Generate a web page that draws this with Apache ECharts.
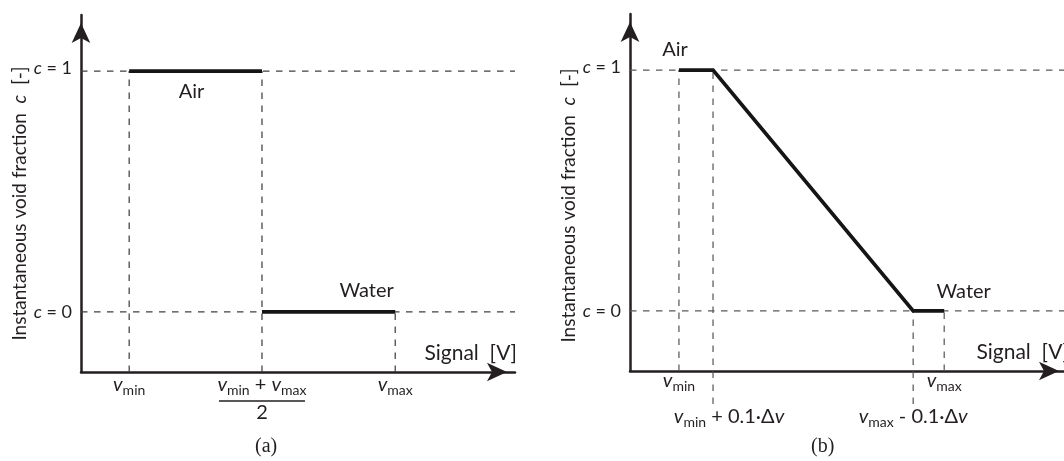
<!DOCTYPE html>
<html><head><meta charset="utf-8">
<script src="https://cdn.jsdelivr.net/npm/echarts@6/dist/echarts.min.js"></script>
<style>html,body{margin:0;padding:0;background:#fff}#c{width:1064px;height:461px}</style>
</head><body><div id="c"></div>
<script>
// ---------------- data ----------------
// signal axis in arbitrary units (0 = origin, 100 = arrow tip)
const cLevels = [0, 1];
const cLabels = ['{i|c}{t| = 0}', '{i1|c}{t1| = 1}'];

// panel (a): two-state step
const aTicks = [11.1, 41.7, 72.4];                 // v_min, (v_min+v_max)/2, v_max
const aTickLabels = ['{v|v}{s|min}', '{v|v}{s|min}{op| + }{v|v}{s|max}\n{bar|}\n{d|2}', '{v|v}{s|max}'];
const aAir = [[11.1, 1], [41.7, 1]];
const aWater = [[41.7, 0], [72.4, 0]];

// panel (b): linear ramp between the two plateaus
const bTicks = [11.2, 71.9];                       // v_min, v_max
const bTickLabels = ['{v|v}{s|min}', '{v|v}{s|max}'];
const bKnees = [19.0, 64.8];                       // v_min+0.1Δv, v_max-0.1Δv
const bKneeLabels = ['{sp|}{v|v}{s|min}{op| + 0.1·Δ}{v|v}', '{v|v}{s|max}{op| - 0.1·Δ}{v|v}'];
const bCurve = [[11.2, 1], [19.0, 1], [64.8, 0], [71.9, 0]];

const xRange = [0, 100];
const yRange = [-0.25, 1.233];
const labelDrop = -0.387;   // knee guide lines in (b) reach down into the label row

// ---------------- styling ----------------
const ink = '#231f20';
const dashA = '#404040';
const dashB = '#5a5a5a';
const sans = 'Lato';
const richX = {
  v:  {fontFamily: sans, fontStyle: 'italic', fontSize: 20, lineHeight: 20, color: ink},
  s:  {fontFamily: sans, fontSize: 14, lineHeight: 20, padding: [11, 0, 0, 0], color: ink},
  op: {fontFamily: sans, fontSize: 20, lineHeight: 20, color: ink},
  sp: {width: 32, lineHeight: 20},
  bar:{width: 86, height: 1.3, lineHeight: 13, backgroundColor: ink},
  d:  {fontFamily: sans, fontSize: 20, lineHeight: 10, color: ink}
};
const richY = {
  i:  {fontFamily: sans, fontStyle: 'italic', fontSize: 18, color: ink},
  t:  {fontFamily: sans, fontSize: 18, color: ink},
  i1: {fontFamily: sans, fontStyle: 'italic', fontSize: 18, color: ink, padding: [0, 0, 6, 0]},
  t1: {fontFamily: sans, fontSize: 18, color: ink, padding: [0, 0, 6, 0]}
};
const richName = {
  t: {fontFamily: sans, fontSize: 19, color: ink},
  i: {fontFamily: sans, fontStyle: 'italic', fontSize: 19, color: ink}
};

function xAxisOf(gi, ticks, labels, margin) {
  return {
    type: 'value', gridIndex: gi, min: xRange[0], max: xRange[1], position: 'bottom',
    name: 'Signal  [V]', nameLocation: 'end', nameGap: 2,
    nameTextStyle: {fontFamily: sans, fontSize: 21, color: ink, align: 'right', verticalAlign: 'bottom', padding: [0, 0, 8, 0]},
    axisLine: {show: true, onZero: false, symbol: ['none', 'arrow'], symbolSize: [14, 20], symbolOffset: [0, -8],
               lineStyle: {color: ink, width: 2.5}},
    axisTick: {show: false}, splitLine: {show: false},
    axisLabel: {show: true, customValues: ticks, margin: margin, rich: richX, hideOverlap: false,
                showMinLabel: true, showMaxLabel: true,
                formatter: v => labels[ticks.indexOf(v)] || ''}
  };
}
// second label row under panel (b): same scale, no line
function labelRowAxis(gi, ticks, labels, margin) {
  return {
    type: 'value', gridIndex: gi, min: xRange[0], max: xRange[1], position: 'bottom', offset: 0,
    axisLine: {show: false, onZero: false}, axisTick: {show: false}, splitLine: {show: false},
    axisLabel: {show: true, customValues: ticks, margin: margin, rich: richX, hideOverlap: false,
                showMinLabel: true, showMaxLabel: true,
                formatter: v => labels[ticks.indexOf(v)] || ''}
  };
}
function yAxisOf(gi, namePad, gap) {
  return {
    type: 'value', gridIndex: gi, min: yRange[0], max: yRange[1],
    name: '{t|Instantaneous void fraction  }{i|c}{t|  [-]}', nameLocation: 'middle', nameRotate: 90, nameGap: gap,
    nameTextStyle: {rich: richName, padding: [0, namePad, 0, 0]},
    axisLine: {show: true, onZero: false, symbol: ['none', 'arrow'], symbolSize: [14, 20], symbolOffset: [0, -8],
               lineStyle: {color: ink, width: 2.5}},
    axisTick: {show: false}, splitLine: {show: false},
    axisLabel: {show: true, customValues: cLevels, margin: 9, rich: richY, hideOverlap: false,
                formatter: v => cLabels[cLevels.indexOf(v)] || ''}
  };
}
function guide(xi, yi, pts, color) {
  return {type: 'line', xAxisIndex: xi, yAxisIndex: yi, data: pts, symbol: 'none', silent: true, clip: false, z: 1,
          lineStyle: {color: color, width: 1.25, type: [6.5, 6.5]}};
}
function solid(xi, yi, pts, name, coord, offset) {
  return {type: 'line', xAxisIndex: xi, yAxisIndex: yi, data: pts, symbol: 'none', silent: true, clip: false, z: 3,
          lineStyle: {color: '#151515', width: 3.7, join: 'miter', cap: 'butt'},
          markPoint: {symbol: 'circle', symbolSize: 1, silent: true, itemStyle: {color: 'rgba(0,0,0,0)'},
            label: {show: true, position: 'inside', formatter: '{b}', offset: offset, fontFamily: sans, fontSize: 20, color: ink},
            data: [{name: name, coord: coord}]}};
}
const mid = pts => (pts[0][0] + pts[pts.length - 1][0]) / 2;

const series = [];
// panel (a)
cLevels.forEach(c => series.push(guide(0, 0, [[xRange[0], c], [xRange[1], c]], dashA)));
[aAir[0], aAir[1], aWater[1]].forEach(p => series.push(guide(0, 0, [[p[0], yRange[0]], [p[0], p[1]]], dashA)));
series.push(solid(0, 0, aAir, 'Air', [mid(aAir), 1], [-4, 20]));
series.push(solid(0, 0, aWater, 'Water', [mid(aWater), 0], [38, -21]));
// panel (b)
cLevels.forEach(c => series.push(guide(1, 1, [[xRange[0], c], [xRange[1], c]], dashB)));
bCurve.forEach((p, i) => {
  const low = (i === 1 || i === 2) ? labelDrop : yRange[0];
  series.push(guide(1, 1, [[p[0], low], [p[0], p[1]]], dashB));
});
const bAirSeg = bCurve.slice(0, 2);
const bFlat = bCurve.slice(2);
const bSeries = solid(1, 1, bCurve, 'Air', [mid(bAirSeg), 1], [-21, -21]);
bSeries.markPoint.data.push({name: 'Water', coord: [mid(bFlat), 0], label: {offset: [35, -19]}});
series.push(bSeries);

const option = {
  animation: false,
  backgroundColor: '#ffffff',
  title: [
    {text: '(a)', left: 255, top: 437, padding: 0, textStyle: {fontFamily: 'Liberation Serif', fontSize: 20, fontWeight: 'normal', color: ink}},
    {text: '(b)', left: 811, top: 437, padding: 0, textStyle: {fontFamily: 'Liberation Serif', fontSize: 20, fontWeight: 'normal', color: ink}}
  ],
  grid: [
    {left: 81, top: 15, width: 434, height: 357, containLabel: false, outerBoundsMode: 'none'},
    {left: 630, top: 14, width: 437, height: 357, containLabel: false, outerBoundsMode: 'none'}
  ],
  xAxis: [xAxisOf(0, aTicks, aTickLabels, 2.5), xAxisOf(1, bTicks, bTickLabels, 0), labelRowAxis(1, bKnees, bKneeLabels, 36)],
  yAxis: [yAxisOf(0, 20, 48), yAxisOf(1, 26, 46)],
  series: series
};
const chart = echarts.init(document.getElementById('c'), null, {renderer: 'canvas'});
chart.setOption(option);
</script>
</body></html>
